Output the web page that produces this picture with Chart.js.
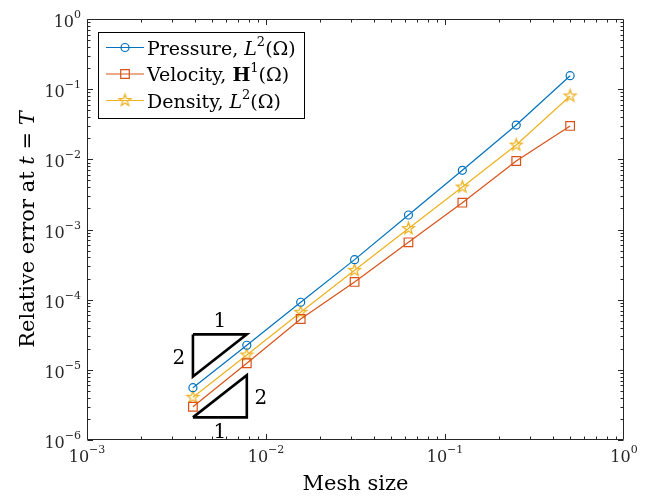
<!DOCTYPE html>
<html><head><meta charset="utf-8">
<script src="https://cdn.jsdelivr.net/npm/chart.js@4/dist/chart.umd.min.js"></script>
<style>html,body{margin:0;padding:0;background:#fff}#wrap{width:648px;height:496px;position:relative}</style>
</head><body><div id="wrap"><canvas id="c" width="648" height="496"></canvas></div>
<script>
// ---- data ----
const meshSizes   = [1/256, 1/128, 1/64, 1/32, 1/16, 1/8, 1/4, 1/2];
const pressureErr = [5.57e-6, 2.24e-5, 9.18e-5, 3.72e-4, 1.61e-3, 6.98e-3, 0.0308, 0.1556];
const velocityErr = [2.98e-6, 1.24e-5, 5.3e-5, 1.79e-4, 6.57e-4, 2.41e-3, 9.47e-3, 0.0299];
const densityErr  = [4.06e-6, 1.63e-5, 6.61e-5, 2.62e-4, 1.03e-3, 4.03e-3, 0.016, 0.080];
const xTickExps = [-3, -2, -1, 0];
const yTickExps = [-6, -5, -4, -3, -2, -1, 0];
const triUpperX = [1/256, 1/128, 1/256, 1/256];
const triUpperY = [3.2e-5, 3.2e-5, 8e-6, 3.2e-5];
const triLowerX = [1/256, 1/128, 1/128, 1/256];
const triLowerY = [2.1e-6, 2.1e-6, 8.4e-6, 2.1e-6];
const seriesNames = ['Pressure', 'Velocity', 'Density'];

const C_BLUE = '#0072BD', C_ORANGE = '#D95319', C_YELLOW = '#EDB120', C_AX = '#262626';
const SERIF = '"DejaVu Serif", "Liberation Serif", serif';

function pts(xs, ys) { return xs.map((x, i) => ({x: x, y: ys[i]})); }

// five-pointed star marker
function makeStar(R) {
  const s = Math.ceil(R * 2 + 4);
  const cv = document.createElement('canvas');
  cv.width = s; cv.height = s;
  const g = cv.getContext('2d');
  g.strokeStyle = C_YELLOW; g.lineWidth = 1.2; g.lineJoin = 'miter';
  const r = R * 0.4;
  g.beginPath();
  for (let i = 0; i < 10; i++) {
    const a = -Math.PI / 2 + i * Math.PI / 5;
    const rr = i % 2 === 0 ? R : r;
    const px = s / 2 + rr * Math.cos(a), py = s / 2 + rr * Math.sin(a);
    if (i === 0) g.moveTo(px, py); else g.lineTo(px, py);
  }
  g.closePath(); g.stroke();
  return cv;
}
const starImg = makeStar(6.3);

function drawSegs(ctx, x, y, segs, align) {
  let w = 0;
  segs.forEach(s => { ctx.font = s.f; w += ctx.measureText(s.t).width; });
  let cx = x;
  if (align === 'right') cx = x - w;
  else if (align === 'center') cx = x - w / 2;
  segs.forEach(s => {
    ctx.font = s.f;
    ctx.fillText(s.t, cx, y + (s.dy || 0));
    cx += ctx.measureText(s.t).width;
  });
  return w;
}

const frameAndTicks = {
  id: 'frameAndTicks',
  beforeDatasetsDraw(chart) {
    const ctx = chart.ctx, a = chart.chartArea, xs = chart.scales.x, ys = chart.scales.y;
    ctx.save();
    ctx.strokeStyle = C_AX; ctx.lineWidth = 1;
    const L = Math.round(a.left) + 0.5, R = Math.round(a.right) - 0.5;
    const T = Math.round(a.top) + 0.5, B = Math.round(a.bottom) - 0.5;
    ctx.beginPath();
    ctx.rect(L, T, R - L, B - T);
    ctx.stroke();
    ctx.beginPath();
    for (let e = -3; e < 0; e++) {
      for (let m = 1; m <= 9; m++) {
        const v = m * Math.pow(10, e);
        const len = m === 1 ? 5.5 : 3;
        const px = Math.round(xs.getPixelForValue(v)) + 0.5;
        ctx.moveTo(px, B); ctx.lineTo(px, B - len);
        ctx.moveTo(px, T); ctx.lineTo(px, T + len);
      }
    }
    for (let e = -6; e < 0; e++) {
      for (let m = 1; m <= 9; m++) {
        const v = m * Math.pow(10, e);
        const len = m === 1 ? 5.5 : 3;
        const py = Math.round(ys.getPixelForValue(v)) + 0.5;
        ctx.moveTo(L, py); ctx.lineTo(L + len, py);
        ctx.moveTo(R, py); ctx.lineTo(R - len, py);
      }
    }
    ctx.stroke();
    ctx.restore();
  },
  afterDraw(chart) {
    const ctx = chart.ctx, a = chart.chartArea, xs = chart.scales.x, ys = chart.scales.y;
    ctx.save();
    ctx.fillStyle = C_AX;
    ctx.textBaseline = 'alphabetic';
    const fBase = '16px ' + SERIF, fSup = '11px ' + SERIF;
    yTickExps.forEach(e => {
      const py = ys.getPixelForValue(Math.pow(10, e));
      const sup = e < 0 ? '\u2212' + (-e) : String(e);
      drawSegs(ctx, 81, py + 8, [{t: '10', f: fBase}, {t: sup, f: fSup, dy: -9}], 'right');
    });
    xTickExps.forEach(e => {
      const px = xs.getPixelForValue(Math.pow(10, e));
      const sup = e < 0 ? '\u2212' + (-e) : String(e);
      drawSegs(ctx, px, a.bottom + 22, [{t: '10', f: fBase}, {t: sup, f: fSup, dy: -9}], 'center');
    });
    // axis titles
    ctx.fillStyle = '#000';
    const fT = '21px ' + SERIF, fTi = 'italic 21px ' + SERIF;
    drawSegs(ctx, (a.left + a.right) / 2, 490, [{t: 'Mesh size', f: fT}], 'center');
    ctx.save();
    ctx.translate(34, (a.top + a.bottom) / 2);
    ctx.rotate(-Math.PI / 2);
    drawSegs(ctx, 0, 0, [{t: 'Relative error at ', f: fT}, {t: 't', f: fTi}, {t: ' = ', f: fT}, {t: 'T', f: fTi}], 'center');
    ctx.restore();
    // slope labels
    const fN = '20px ' + SERIF;
    const ux0 = xs.getPixelForValue(triUpperX[0]), ux1 = xs.getPixelForValue(triUpperX[1]);
    const uyT = ys.getPixelForValue(triUpperY[0]), uyB = ys.getPixelForValue(triUpperY[2]);
    drawSegs(ctx, (ux0 + ux1) / 2, uyT - 7, [{t: '1', f: fN}], 'center');
    drawSegs(ctx, ux0 - 14, (uyT + uyB) / 2 + 8, [{t: '2', f: fN}], 'center');
    const lx0 = xs.getPixelForValue(triLowerX[0]), lx1 = xs.getPixelForValue(triLowerX[1]);
    const lyB = ys.getPixelForValue(triLowerY[0]), lyT = ys.getPixelForValue(triLowerY[2]);
    drawSegs(ctx, lx1 + 14, (lyT + lyB) / 2 + 8, [{t: '2', f: fN}], 'center');
    drawSegs(ctx, (lx0 + lx1) / 2, lyB + 21, [{t: '1', f: fN}], 'center');
    // legend
    const bx = 98.5, by = 32.5, bw = 206, bh = 86;
    ctx.fillStyle = '#fff';
    ctx.fillRect(bx, by, bw, bh);
    ctx.strokeStyle = '#000'; ctx.lineWidth = 1;
    ctx.strokeRect(bx, by, bw, bh);
    const fL = '19px ' + SERIF, fLi = 'italic 19px ' + SERIF, fLb = 'bold 19px ' + SERIF, fLs = '13px ' + SERIF;
    const entries = [
      {c: C_BLUE, m: 'circle', segs: [{t: seriesNames[0] + ', ', f: fL}, {t: 'L', f: fLi}, {t: '2', f: fLs, dy: -9}, {t: '(\u03A9)', f: fL}]},
      {c: C_ORANGE, m: 'rect', segs: [{t: seriesNames[1] + ', ', f: fL}, {t: 'H', f: fLb}, {t: '1', f: fLs, dy: -9}, {t: '(\u03A9)', f: fL}]},
      {c: C_YELLOW, m: 'star', segs: [{t: seriesNames[2] + ', ', f: fL}, {t: 'L', f: fLi}, {t: '2', f: fLs, dy: -9}, {t: '(\u03A9)', f: fL}]}
    ];
    const ey = [47.5, 74, 100.5];
    entries.forEach((en, i) => {
      const y = ey[i];
      ctx.strokeStyle = en.c; ctx.lineWidth = 1.2;
      ctx.beginPath(); ctx.moveTo(106, y); ctx.lineTo(144, y); ctx.stroke();
      ctx.beginPath();
      if (en.m === 'circle') { ctx.arc(125, y, 4, 0, Math.PI * 2); ctx.stroke(); }
      else if (en.m === 'rect') { ctx.rect(125 - 4.3, y - 4.3, 8.6, 8.6); ctx.stroke(); }
      else { ctx.drawImage(starImg, 125 - starImg.width / 2, y - starImg.height / 2); }
      ctx.fillStyle = '#000';
      drawSegs(ctx, 147, y + 7, en.segs, 'left');
    });
    ctx.restore();
  }
};

const lineDs = (label, ys, color, style, radius) => ({
  label: label, data: pts(meshSizes, ys), borderColor: color, borderWidth: 1.2,
  pointStyle: style, pointRadius: radius, pointHoverRadius: radius, pointBorderColor: color,
  pointBorderWidth: 1.2, pointBackgroundColor: 'rgba(0,0,0,0)', fill: false, tension: 0
});

new Chart(document.getElementById('c'), {
  type: 'line',
  data: {
    datasets: [
      lineDs(seriesNames[0], pressureErr, C_BLUE, 'circle', 4),
      lineDs(seriesNames[1], velocityErr, C_ORANGE, 'rect', 6.1),
      lineDs(seriesNames[2], densityErr, C_YELLOW, starImg, 6),
      {label: 'triU', data: pts(triUpperX, triUpperY), borderColor: '#000', borderWidth: 2.6, pointRadius: 0, fill: false, tension: 0},
      {label: 'triL', data: pts(triLowerX, triLowerY), borderColor: '#000', borderWidth: 2.6, pointRadius: 0, fill: false, tension: 0}
    ]
  },
  options: {
    responsive: false, animation: false, devicePixelRatio: 1,
    layout: {padding: {left: 87, right: 24, top: 19, bottom: 56}},
    scales: {
      x: {type: 'logarithmic', min: 1e-3, max: 1, display: false},
      y: {type: 'logarithmic', min: 1e-6, max: 1, display: false}
    },
    plugins: {legend: {display: false}, tooltip: {enabled: false}}
  },
  plugins: [frameAndTicks]
});
</script>
</body></html>
